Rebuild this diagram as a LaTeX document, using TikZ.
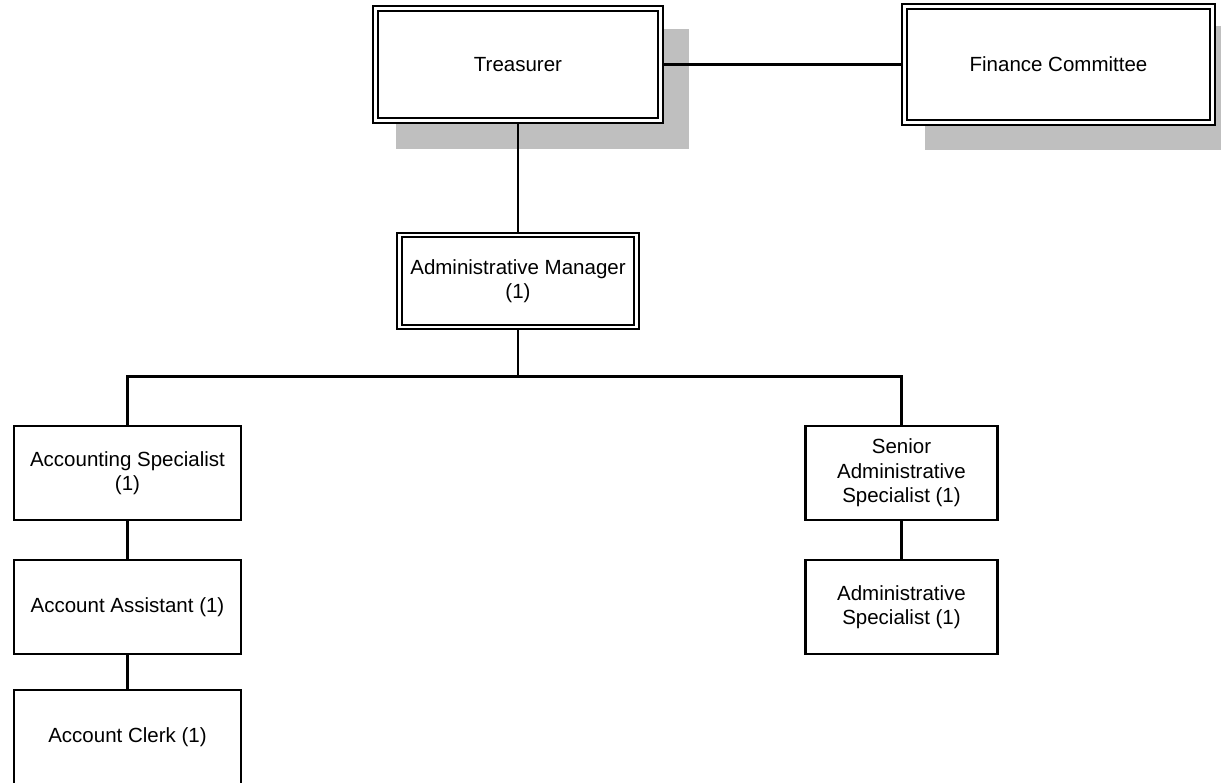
\documentclass[tikz,border=0pt]{standalone}
\usepackage{fontspec}
\setmainfont{Liberation Sans}
\usetikzlibrary{calc}
\pgfdeclarelayer{background}
\pgfsetlayers{background,main}
\begin{document}
\begin{tikzpicture}[x=1pt,y=-1pt,
  every node/.style={font=\fontsize{20.5}{24.5}\selectfont, align=center, inner sep=0pt},
  box/.style={draw, line width=2.2pt, fill=white, minimum width=227pt, minimum height=94pt},
  dbox/.style={draw, line width=2pt, double, double distance=2.4pt, fill=white},
  link/.style={line width=2.2pt},
  shade/.style={fill=black!25}]
\useasboundingbox (0,0) rectangle (1221,782);
\node[dbox, minimum width=285pt, minimum height=112pt] (T) at (518,64.5) {Treasurer};
\node[dbox, minimum width=308pt, minimum height=116pt] (FC) at (1058.5,64.5) {Finance Committee};
\node[dbox, minimum width=237pt, minimum height=92pt] (AM) at (518,281) {Administrative Manager\\(1)};
\node[box] (AS) at (127.5,473) {Accounting Specialist\\(1)};
\node[box] (AA) at (127.5,607) {Account Assistant (1)};
\node[box] (AC) at (127.5,737) {Account Clerk (1)};
\node[box, minimum width=192pt] (SAS) at (901.5,473) {Senior\\Administrative\\Specialist (1)};
\node[box, minimum width=192pt] (ADS) at (901.5,607) {Administrative\\Specialist (1)};
\coordinate (bus) at (518,376.5);
\begin{pgfonlayer}{background}
\fill[shade] ($(T.north west)+(21.5,21.5)$) rectangle ($(T.south east)+(27,27.5)$);
\fill[shade] ($(FC.north west)+(21,20.5)$) rectangle ($(FC.south east)+(27,26)$);
\draw[link] (T.east) -- (FC.west);
\draw[link] (T.south) -- (AM.north);
\draw[link] (AM.south) -- (bus);
\draw[link] (AS.north) |- (bus) -| (SAS.north);
\draw[link] (AS.south) -- (AA.north);
\draw[link] (AA.south) -- (AC.north);
\draw[link] (SAS.south) -- (ADS.north);
\end{pgfonlayer}
\end{tikzpicture}
\end{document}
